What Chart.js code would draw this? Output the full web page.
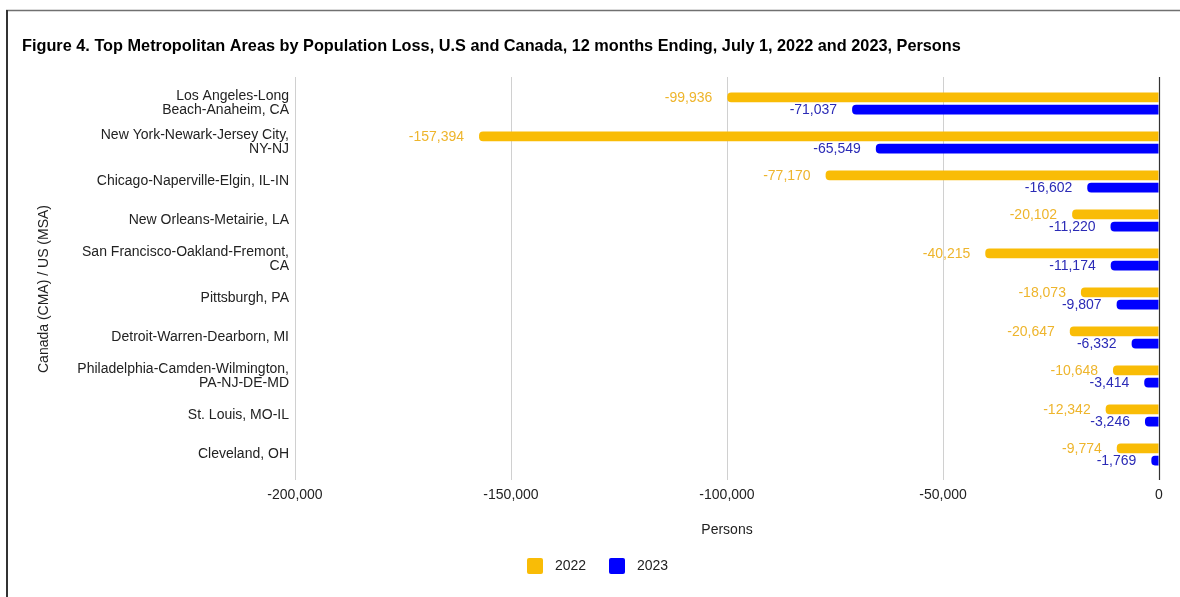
<!DOCTYPE html>
<html><head><meta charset="utf-8">
<script src="https://cdn.jsdelivr.net/npm/chart.js@4.4.0/dist/chart.umd.min.js"></script>
<style>html,body{margin:0;padding:0;background:#fff;} canvas{display:block;}</style>
</head><body>
<canvas id="c" width="1180" height="597"></canvas>
<script>
const titleText = "Figure 4. Top Metropolitan Areas by Population Loss, U.S and Canada, 12 months Ending, July 1, 2022 and 2023, Persons";
const yAxisTitle = "Canada (CMA) / US (MSA)";
const xAxisTitle = "Persons";
const categories = [
  ["Los Angeles-Long", "Beach-Anaheim, CA"],
  ["New York-Newark-Jersey City,", "NY-NJ"],
  "Chicago-Naperville-Elgin, IL-IN",
  "New Orleans-Metairie, LA",
  ["San Francisco-Oakland-Fremont,", "CA"],
  "Pittsburgh, PA",
  "Detroit-Warren-Dearborn, MI",
  ["Philadelphia-Camden-Wilmington,", "PA-NJ-DE-MD"],
  "St. Louis, MO-IL",
  "Cleveland, OH"
];
const seriesNames = ["2022", "2023"];
const values2022 = [-99936, -157394, -77170, -20102, -40215, -18073, -20647, -10648, -12342, -9774];
const values2023 = [-71037, -65549, -16602, -11220, -11174, -9807, -6332, -3414, -3246, -1769];
const xTickValues = [-200000, -150000, -100000, -50000, 0];

const barColors = ["#f9bc06", "#0000ff"];
const labelColors = ["#eeb52c", "#2b2bb6"];
const FONT = "'Liberation Sans', Arial, sans-serif";

const decor = {
  id: 'decor',
  beforeDraw(chart) {
    const ctx = chart.ctx, area = chart.chartArea, xs = chart.scales.x;
    ctx.save();
    ctx.fillStyle = '#fff';
    ctx.fillRect(0, 0, chart.width, chart.height);
    // frame
    ctx.strokeStyle = '#707070'; ctx.lineWidth = 1.5;
    ctx.beginPath(); ctx.moveTo(6, 10.5); ctx.lineTo(chart.width, 10.5); ctx.stroke();
    ctx.strokeStyle = '#333'; ctx.lineWidth = 2;
    ctx.beginPath(); ctx.moveTo(7, 10); ctx.lineTo(7, chart.height); ctx.stroke();
    // title
    ctx.fillStyle = '#000'; ctx.font = "bold 16.3px " + FONT;
    ctx.textAlign = 'left'; ctx.textBaseline = 'middle';
    ctx.fillText(titleText, 22, 47);
    // grid stubs above plot
    ctx.lineWidth = 1; ctx.strokeStyle = '#d0d0d0';
    xs.ticks.forEach(t => {
      if (t.value === 0) return;
      const px = Math.round(xs.getPixelForValue(t.value)) + 0.5;
      ctx.beginPath(); ctx.moveTo(px, area.top - 7); ctx.lineTo(px, area.top); ctx.stroke();
    });
    // y axis title
    ctx.save();
    ctx.translate(44, 289); ctx.rotate(-Math.PI / 2);
    ctx.fillStyle = '#222'; ctx.font = "14px " + FONT;
    ctx.textAlign = 'center'; ctx.textBaseline = 'middle';
    ctx.fillText(yAxisTitle, 0, 0);
    ctx.restore();
    // x axis title
    ctx.fillStyle = '#222'; ctx.font = "14px " + FONT;
    ctx.textAlign = 'center'; ctx.textBaseline = 'middle';
    ctx.fillText(xAxisTitle, (area.left + area.right) / 2, 530);
    // legend
    const legX = [527, 609];
    chart.data.datasets.forEach((ds, i) => {
      ctx.fillStyle = ds.backgroundColor;
      ctx.beginPath();
      if (ctx.roundRect) ctx.roundRect(legX[i], 558, 16, 16, 2); else ctx.rect(legX[i], 558, 16, 16);
      ctx.fill();
      ctx.fillStyle = '#222'; ctx.font = "14px " + FONT;
      ctx.textAlign = 'left'; ctx.textBaseline = 'middle';
      ctx.fillText(ds.label, legX[i] + 28, 566);
    });
    ctx.restore();
  },
  afterDatasetsDraw(chart) {
    const ctx = chart.ctx, area = chart.chartArea, xs = chart.scales.x;
    ctx.save();
    // zero line on top
    const zx = Math.round(xs.getPixelForValue(0)) + 0.5;
    ctx.strokeStyle = '#333'; ctx.lineWidth = 1.2;
    ctx.beginPath(); ctx.moveTo(zx, area.top - 7); ctx.lineTo(zx, area.bottom + 6); ctx.stroke();
    // data labels
    ctx.font = "14px " + FONT; ctx.textAlign = 'right'; ctx.textBaseline = 'middle';
    chart.data.datasets.forEach((ds, i) => {
      const meta = chart.getDatasetMeta(i);
      meta.data.forEach((bar, j) => {
        ctx.fillStyle = labelColors[i];
        ctx.fillText(ds.data[j].toLocaleString('en-US'), bar.x - 15, bar.y + 0.5);
      });
    });
    ctx.restore();
  }
};

new Chart(document.getElementById('c'), {
  type: 'bar',
  data: {
    labels: categories,
    datasets: [
      { label: seriesNames[0], data: values2022, backgroundColor: barColors[0] },
      { label: seriesNames[1], data: values2023, backgroundColor: barColors[1] }
    ]
  },
  options: {
    indexAxis: 'y',
    responsive: false,
    animation: false,
    devicePixelRatio: 1,
    layout: { padding: { top: 84, left: 0, right: 21, bottom: 83 } },
    datasets: { bar: { categoryPercentage: 0.62, barPercentage: 0.8, borderRadius: 4, borderSkipped: 'start' } },
    plugins: { legend: { display: false }, title: { display: false }, tooltip: { enabled: false } },
    scales: {
      x: {
        min: xTickValues[0], max: xTickValues[xTickValues.length - 1],
        afterBuildTicks(scale) { scale.ticks = xTickValues.map(v => ({ value: v })); },
        afterFit(scale) { scale.height = 40; },
        grid: {
          color: c => (c.tick && c.tick.value === 0) ? '#333' : '#d0d0d0',
          lineWidth: 1, drawTicks: true, tickLength: 6
        },
        border: { display: false },
        ticks: {
          padding: 7, color: '#222',
          font: { family: FONT, size: 14 },
          callback: v => Number(v).toLocaleString('en-US')
        }
      },
      y: {
        afterFit(scale) { scale.width = 295; },
        grid: { display: false, drawTicks: false },
        border: { display: false },
        ticks: {
          padding: 6, color: '#222',
          font: { family: FONT, size: 14, lineHeight: 1.0 }
        }
      }
    }
  },
  plugins: [decor]
});
</script>
</body></html>
